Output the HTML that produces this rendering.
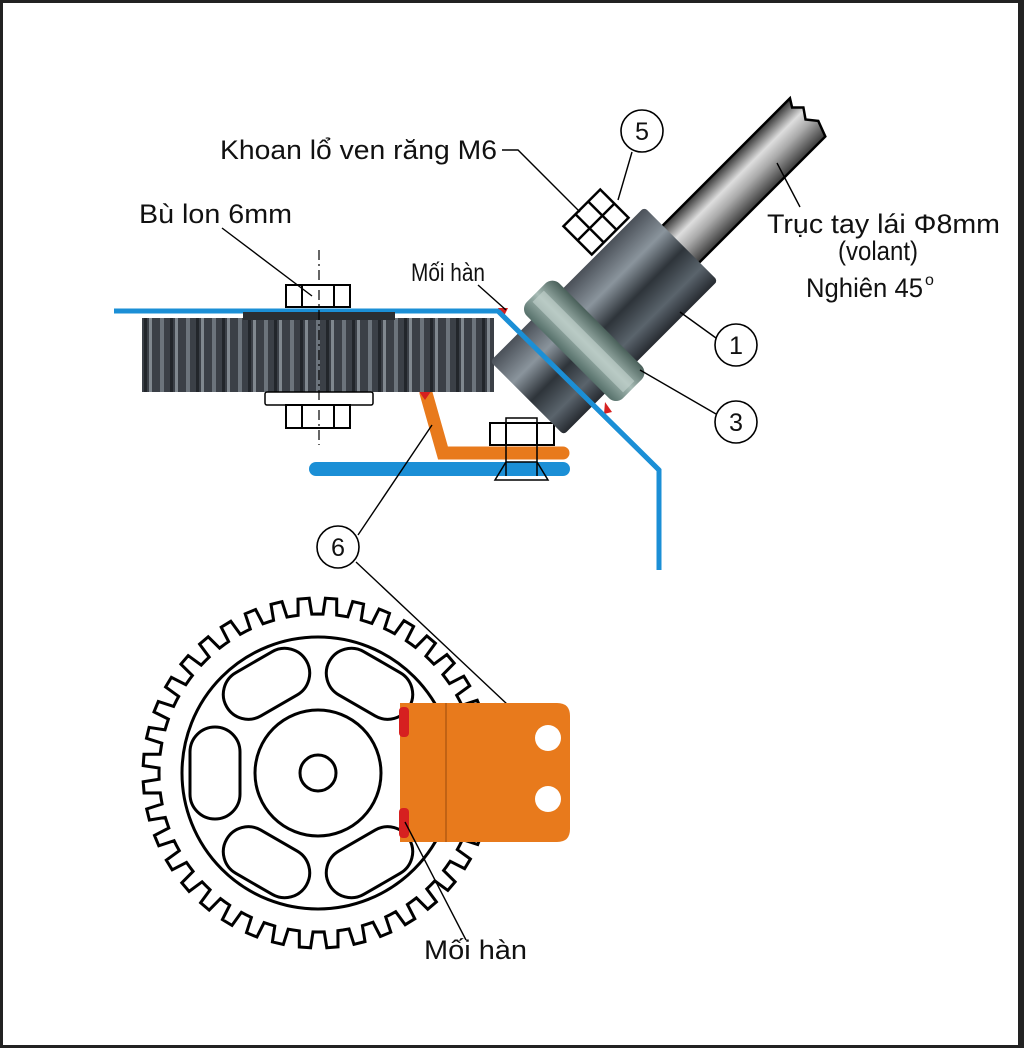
<!DOCTYPE html>
<html><head><meta charset="utf-8"><style>
html,body{margin:0;padding:0;background:#fff}
svg{display:block}
text{font-family:"Liberation Sans","DejaVu Sans",sans-serif;fill:#111}
</style></head><body>
<svg id="s" width="1024" height="1048" viewBox="0 0 1024 1048" xmlns="http://www.w3.org/2000/svg">
<defs>
<linearGradient id="rod" x1="0" y1="0" x2="0" y2="1">
<stop offset="0" stop-color="#333"/><stop offset="0.35" stop-color="#ddd"/><stop offset="0.6" stop-color="#aaa"/><stop offset="1" stop-color="#3a3a3a"/></linearGradient>
<linearGradient id="met" x1="0" y1="0" x2="0" y2="1">
<stop offset="0" stop-color="#4a5058"/><stop offset="0.3" stop-color="#8a949c"/><stop offset="0.55" stop-color="#2e343a"/><stop offset="0.8" stop-color="#5a646c"/><stop offset="1" stop-color="#262a30"/></linearGradient>
<linearGradient id="col" x1="0" y1="0" x2="1" y2="0">
<stop offset="0" stop-color="#56706a"/><stop offset="0.5" stop-color="#a8bcb6"/><stop offset="1" stop-color="#4a605a"/></linearGradient>
<pattern id="rack" width="26" height="80" patternUnits="userSpaceOnUse">
<rect width="26" height="80" fill="#3b4047"/><rect x="4" width="4" height="80" fill="#6c747c"/><rect x="14" width="3" height="80" fill="#22262b"/><rect x="19" width="3" height="80" fill="#80888f"/></pattern>
</defs>
<rect x="1.5" y="1.5" width="1018" height="1045" fill="#fff" stroke="#222" stroke-width="3"/>
<rect x="1018" y="0" width="6" height="1048" fill="#222"/>

<polyline points="114,311 498,311 659,470 659,570" fill="none" stroke="#1b8fd6" stroke-width="5"/>
<line x1="316" y1="469" x2="563" y2="469" stroke="#1b8fd6" stroke-width="14" stroke-linecap="round"/>
<polyline points="426,393 443,453 563,453" fill="none" stroke="#e87a1c" stroke-width="13" stroke-linejoin="miter" stroke-linecap="round"/>
<path d="M418,390 L432,390 L425,400Z M498,308 L508,308 L504,316Z M605,402 L612,412 L604,414Z" fill="#d62020"/>

<rect x="142" y="318" width="352" height="74" fill="url(#rack)"/>
<rect x="243" y="312" width="152" height="8" fill="#2a2e33"/>

<rect x="286" y="285" width="64" height="22" fill="#fff" stroke="#000" stroke-width="2"/>
<line x1="302" y1="285" x2="302" y2="307" stroke="#000" stroke-width="2"/><line x1="334" y1="285" x2="334" y2="307" stroke="#000" stroke-width="2"/>
<rect x="265" y="392" width="108" height="13" fill="#fff" stroke="#000" stroke-width="1.5" rx="2"/>
<rect x="286" y="405" width="64" height="23" fill="#fff" stroke="#000" stroke-width="2"/>
<line x1="302" y1="405" x2="302" y2="428" stroke="#000" stroke-width="2"/><line x1="334" y1="405" x2="334" y2="428" stroke="#000" stroke-width="2"/>
<line x1="319" y1="250" x2="319" y2="445" stroke="#000" stroke-width="1.2" stroke-dasharray="10,4,2,4"/>

<line x1="506" y1="445" x2="506" y2="476" stroke="#000" stroke-width="1.5"/><line x1="537" y1="445" x2="537" y2="476" stroke="#000" stroke-width="1.5"/>
<rect x="506" y="418" width="31" height="5" fill="#fff" stroke="#000" stroke-width="1.5"/>
<rect x="490" y="423" width="64" height="22" fill="#fff" stroke="#000" stroke-width="2"/>
<line x1="506" y1="423" x2="506" y2="445" stroke="#000" stroke-width="2"/><line x1="537" y1="423" x2="537" y2="445" stroke="#000" stroke-width="2"/>
<path d="M506,462 L537,462 L548,480 L495,480 Z" fill="none" stroke="#000" stroke-width="1.5"/>

<g transform="translate(575,350) rotate(-45)">
<path d="M60,-26 L330,-26 L325,-18 L333,-10 L326,0 L334,10 L328,26 L60,26Z" fill="url(#rod)" stroke="#000" stroke-width="2.5"/>
<rect x="-68" y="-52" width="70" height="104" rx="4" fill="url(#met)"/>
<rect x="0" y="-52" width="150" height="104" rx="4" fill="url(#met)"/>
<rect x="-10" y="-68" width="46" height="136" rx="10" fill="url(#col)"/>
<rect x="4" y="-64" width="16" height="128" fill="#c5d3cf" opacity="0.6"/>
</g>
<line x1="498" y1="311" x2="659" y2="470" stroke="#1b8fd6" stroke-width="5"/>

<g transform="translate(596,222) rotate(-45)">
<rect x="-26" y="-20" width="52" height="40" fill="#fff" stroke="#000" stroke-width="2.5"/>
<line x1="-26" y1="0" x2="26" y2="0" stroke="#000" stroke-width="2.5"/>
<line x1="-9" y1="-20" x2="-9" y2="20" stroke="#000" stroke-width="2.5"/><line x1="9" y1="-20" x2="9" y2="20" stroke="#000" stroke-width="2.5"/>
</g>

<g stroke="#000" stroke-width="1.4" fill="none">
<polyline points="502,150 518,150 580,212"/>
<line x1="632" y1="152" x2="618" y2="200"/>
<line x1="222" y1="228" x2="312" y2="296"/>
<line x1="478" y1="285" x2="506" y2="310"/>
<line x1="800" y1="207" x2="777" y2="163"/>
<line x1="680" y1="312" x2="716" y2="338"/>
<line x1="640" y1="370" x2="716" y2="414"/>
<line x1="358" y1="535" x2="432" y2="425"/>
<line x1="356" y1="562" x2="508" y2="705"/>
</g>
<g fill="#fff" stroke="#000" stroke-width="1.6">
<circle cx="642" cy="131" r="21"/><circle cx="736" cy="345" r="21"/><circle cx="736" cy="422" r="21"/><circle cx="338" cy="547" r="21"/>
</g>
<g font-size="25" text-anchor="middle">
<text x="642" y="140" textLength="14" lengthAdjust="spacingAndGlyphs">5</text><text x="736" y="354" textLength="14" lengthAdjust="spacingAndGlyphs">1</text><text x="736" y="431" textLength="14" lengthAdjust="spacingAndGlyphs">3</text><text x="338" y="556" textLength="14" lengthAdjust="spacingAndGlyphs">6</text>
</g>
<g font-size="27">
<text x="220" y="159" textLength="277" lengthAdjust="spacingAndGlyphs">Khoan lổ ven răng M6</text>
<text x="139" y="223" textLength="153" lengthAdjust="spacingAndGlyphs">Bù lon 6mm</text>
<text x="411" y="281" font-size="25" textLength="74" lengthAdjust="spacingAndGlyphs">Mối hàn</text>
<text x="767" y="233" textLength="233" lengthAdjust="spacingAndGlyphs">Trục tay lái Φ8mm</text>
<text x="838" y="260" textLength="80" lengthAdjust="spacingAndGlyphs">(volant)</text>
<text x="806" y="297" textLength="117" lengthAdjust="spacingAndGlyphs">Nghiên 45</text>
<text x="925" y="285" font-size="16">o</text>
<text x="424" y="959" textLength="103" lengthAdjust="spacingAndGlyphs">Mối hàn</text>
</g>

<g id="gear" fill="none" stroke="#000" stroke-width="3">
<path id="teeth"/>
<circle cx="318" cy="773" r="136"/>
<circle cx="318" cy="773" r="63"/>
<circle cx="318" cy="773" r="18"/>
<g id="slots"></g>
</g>
<path d="M400,703 L557,703 Q570,703 570,716 L570,829 Q570,842 557,842 L400,842Z" fill="#e87a1c"/>
<line x1="446" y1="703" x2="446" y2="842" stroke="#9a4a0c" stroke-width="1"/>
<circle cx="548" cy="738" r="13" fill="#fff"/><circle cx="548" cy="799" r="13" fill="#fff"/>
<rect x="399" y="707" width="10" height="30" rx="4" fill="#d62020"/>
<rect x="399" y="808" width="10" height="30" rx="4" fill="#d62020"/>
<line x1="405" y1="822" x2="466" y2="940" stroke="#000" stroke-width="1.4"/>
</svg>
<script>
(function(){
var cx=318,cy=773,ro=175,ri=159,n=40,d="";
for(var i=0;i<n;i++){
 var a=i*2*Math.PI/n, w=2*Math.PI/n;
 var pts=[[ri,a],[ri,a+w*0.2],[ro,a+w*0.27],[ro,a+w*0.68],[ri,a+w*0.75],[ri,a+w]];
 pts.forEach(function(p,k){var x=cx+p[0]*Math.cos(p[1]),y=cy+p[0]*Math.sin(p[1]);d+=(i==0&&k==0?"M":"L")+x.toFixed(1)+","+y.toFixed(1)+" ";});
}
document.getElementById("teeth").setAttribute("d",d+"Z");
var g=document.getElementById("slots"),h="";
[60,120,180,240,300].forEach(function(deg){
 var x=cx+103*Math.cos(deg*Math.PI/180),y=cy-103*Math.sin(deg*Math.PI/180);
 h+='<rect x="'+(x-46)+'" y="'+(y-25)+'" width="92" height="50" rx="25" transform="rotate('+(90-deg)+' '+x+' '+y+')"/>';
});
g.innerHTML=h;
})();
</script>
</body></html>
